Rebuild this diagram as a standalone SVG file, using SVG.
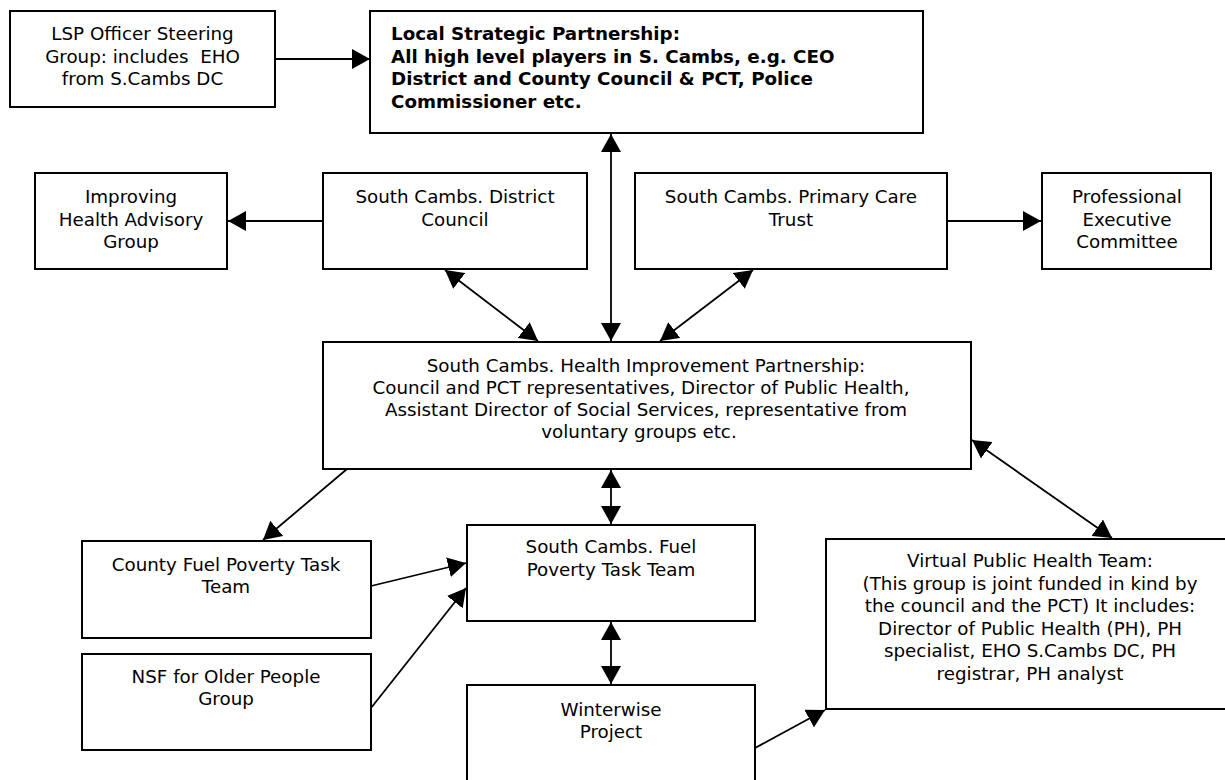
<svg xmlns="http://www.w3.org/2000/svg" width="1225" height="780" viewBox="0 0 1225 780">
  <style>
    .box { fill: #ffffff; stroke: #000000; stroke-width: 2; }
    .lbl { font-family: "DejaVu Sans", Verdana, sans-serif; font-size: 18.3px; fill: #000000; text-anchor: middle; }
    .bold { font-weight: bold; text-anchor: start; }
    .conn line { stroke: #000000; stroke-width: 1.8; fill: none; }
  </style>
  <defs>
    <marker id="head" markerUnits="userSpaceOnUse" markerWidth="20" markerHeight="20" refX="18" refY="10" orient="auto-start-reverse">
      <path d="M0,0 L18,10 L0,20 z" fill="#000000"/>
    </marker>
  </defs>

  <rect width="1225" height="780" fill="#ffffff"/>

  <!-- connectors -->
  <g id="connectors" class="conn">
    <line x1="275" y1="59" x2="370" y2="59" marker-end="url(#head)"/>
    <line x1="323" y1="221" x2="228" y2="221" marker-end="url(#head)"/>
    <line x1="947" y1="221" x2="1041" y2="221" marker-end="url(#head)"/>
    <line x1="611" y1="134" x2="611" y2="341" marker-start="url(#head)" marker-end="url(#head)"/>
    <line x1="445" y1="270" x2="538" y2="341" marker-start="url(#head)" marker-end="url(#head)"/>
    <line x1="753" y1="270" x2="660" y2="341" marker-start="url(#head)" marker-end="url(#head)"/>
    <line x1="347" y1="469" x2="263" y2="540" marker-end="url(#head)"/>
    <line x1="611" y1="470" x2="611" y2="524" marker-start="url(#head)" marker-end="url(#head)"/>
    <line x1="972" y1="440" x2="1112" y2="538" marker-start="url(#head)" marker-end="url(#head)"/>
    <line x1="371" y1="586" x2="466" y2="563" marker-end="url(#head)"/>
    <line x1="371" y1="708" x2="466" y2="588" marker-end="url(#head)"/>
    <line x1="611" y1="622" x2="611" y2="684" marker-start="url(#head)" marker-end="url(#head)"/>
    <line x1="755" y1="748" x2="825" y2="710" marker-end="url(#head)"/>
  </g>

  <g id="lsp-officer">
    <rect class="box" x="10" y="11" width="265" height="96"/>
    <text class="lbl" x="142.5" y="40">LSP Officer Steering</text>
    <text class="lbl" x="142.5" y="62.5" xml:space="preserve">Group: includes  EHO</text>
    <text class="lbl" x="142.5" y="85">from S.Cambs DC</text>
  </g>

  <g id="local-strategic">
    <rect class="box" x="370" y="11" width="553" height="122"/>
    <text class="lbl bold" x="391" y="40">Local Strategic Partnership:</text>
    <text class="lbl bold" x="391" y="62.5">All high level players in S. Cambs, e.g. CEO</text>
    <text class="lbl bold" x="391" y="85">District and County Council &amp; PCT, Police</text>
    <text class="lbl bold" x="391" y="107.5">Commissioner etc.</text>
  </g>

  <g id="improving-health">
    <rect class="box" x="35" y="173" width="192" height="96"/>
    <text class="lbl" x="131" y="203">Improving</text>
    <text class="lbl" x="131" y="225.5">Health Advisory</text>
    <text class="lbl" x="131" y="248">Group</text>
  </g>

  <g id="district-council">
    <rect class="box" x="323" y="173" width="264" height="96"/>
    <text class="lbl" x="455" y="203">South Cambs. District</text>
    <text class="lbl" x="455" y="225.5">Council</text>
  </g>

  <g id="primary-care">
    <rect class="box" x="635" y="173" width="312" height="96"/>
    <text class="lbl" x="791" y="203">South Cambs. Primary Care</text>
    <text class="lbl" x="791" y="225.5">Trust</text>
  </g>

  <g id="professional-exec">
    <rect class="box" x="1042" y="173" width="169" height="96"/>
    <text class="lbl" x="1127" y="203">Professional</text>
    <text class="lbl" x="1127" y="225.5">Executive</text>
    <text class="lbl" x="1127" y="248">Committee</text>
  </g>

  <g id="health-improvement">
    <rect class="box" x="323" y="342" width="648" height="127"/>
    <text class="lbl" x="646" y="372">South Cambs. Health Improvement Partnership:</text>
    <text class="lbl" x="641" y="394">Council and PCT representatives, Director of Public Health,</text>
    <text class="lbl" x="646" y="416">Assistant Director of Social Services, representative from</text>
    <text class="lbl" x="639" y="438">voluntary groups etc.</text>
  </g>

  <g id="county-fuel">
    <rect class="box" x="82" y="541" width="289" height="97"/>
    <text class="lbl" x="226" y="571">County Fuel Poverty Task</text>
    <text class="lbl" x="226" y="593">Team</text>
  </g>

  <g id="south-fuel">
    <rect class="box" x="467" y="525" width="288" height="96"/>
    <text class="lbl" x="611" y="553">South Cambs. Fuel</text>
    <text class="lbl" x="611" y="576">Poverty Task Team</text>
  </g>

  <g id="nsf-older">
    <rect class="box" x="82" y="654" width="289" height="96"/>
    <text class="lbl" x="226" y="683">NSF for Older People</text>
    <text class="lbl" x="226" y="705">Group</text>
  </g>

  <g id="winterwise">
    <rect class="box" x="467" y="685" width="288" height="120"/>
    <text class="lbl" x="611" y="716">Winterwise</text>
    <text class="lbl" x="611" y="738">Project</text>
  </g>

  <g id="virtual-team">
    <rect class="box" x="826" y="539" width="410" height="170"/>
    <text class="lbl" x="1030" y="567">Virtual Public Health Team:</text>
    <text class="lbl" x="1030" y="590">(This group is joint funded in kind by</text>
    <text class="lbl" x="1030" y="612">the council and the PCT) It includes:</text>
    <text class="lbl" x="1030" y="635">Director of Public Health (PH), PH</text>
    <text class="lbl" x="1030" y="657">specialist, EHO S.Cambs DC, PH</text>
    <text class="lbl" x="1030" y="680">registrar, PH analyst</text>
  </g>
</svg>
